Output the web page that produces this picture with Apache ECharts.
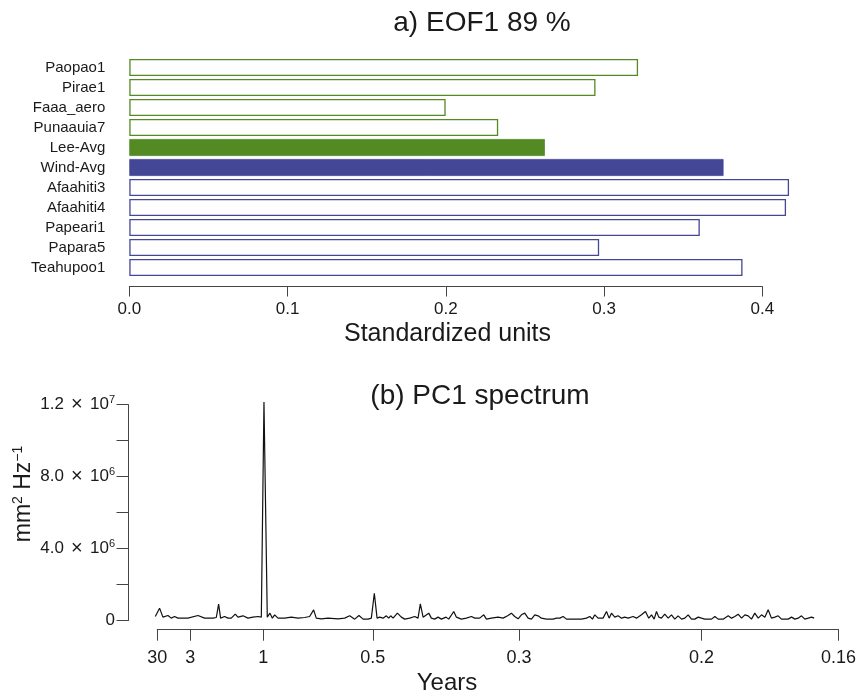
<!DOCTYPE html>
<html>
<head>
<meta charset="utf-8">
<script src="https://cdn.jsdelivr.net/npm/echarts@6/dist/echarts.min.js"></script>
<style>
html,body{margin:0;padding:0;background:#fff;}
#chart{width:859px;height:696px;}
</style>
</head>
<body>
<div id="chart"></div>
<script>
// ---- Data: panel a) EOF1 loadings ----
var stations = ['Paopao1','Pirae1','Faaa_aero','Punaauia7','Lee-Avg','Wind-Avg','Afaahiti3','Afaahiti4','Papeari1','Papara5','Teahupoo1'];
var stationSide = ['lee','lee','lee','lee','lee','wind','wind','wind','wind','wind','wind'];
var eofLoadings = [0.3215, 0.2946, 0.1999, 0.2331, 0.2626, 0.3755, 0.4169, 0.4150, 0.3605, 0.2969, 0.3875];
var eofTicks = [0, 0.1, 0.2, 0.3, 0.4];

// ---- Data: panel (b) PC1 spectrum (frequency in cycles per year, power in mm^2 Hz^-1) ----
var freq = [0.015,0.054,0.084,0.130,0.160,0.190,0.220,0.250,0.311,0.402,0.462,0.538,0.568,0.589,0.607,0.643,0.674,0.704,0.740,0.764,0.810,0.855,0.900,0.946,0.976,1.000,1.030,1.054,1.076,1.097,1.127,1.187,1.248,1.308,1.369,1.414,1.450,1.474,1.520,1.580,1.671,1.731,1.777,1.822,1.861,1.898,1.943,1.973,2.000,2.025,2.049,2.079,2.109,2.130,2.148,2.170,2.209,2.245,2.275,2.321,2.366,2.396,2.417,2.442,2.457,2.493,2.517,2.547,2.578,2.608,2.650,2.674,2.720,2.744,2.789,2.834,2.880,2.910,2.955,2.992,3.016,3.061,3.121,3.167,3.212,3.242,3.272,3.303,3.333,3.363,3.394,3.424,3.454,3.484,3.514,3.560,3.620,3.650,3.681,3.711,3.741,3.817,3.877,3.922,3.953,3.977,3.998,4.028,4.073,4.104,4.128,4.149,4.179,4.209,4.240,4.270,4.300,4.345,4.376,4.421,4.457,4.487,4.512,4.536,4.557,4.578,4.602,4.632,4.663,4.693,4.723,4.753,4.784,4.814,4.844,4.874,4.904,4.935,4.965,4.995,5.056,5.086,5.116,5.161,5.207,5.237,5.267,5.297,5.328,5.358,5.388,5.418,5.448,5.479,5.509,5.539,5.569,5.599,5.630,5.660,5.690,5.750,5.781,5.811,5.841,5.871,5.901,5.932,5.962,5.986];
var power = [224000,686000,187000,279000,131000,224000,131000,131000,131000,279000,131000,131000,168000,908000,131000,224000,131000,131000,353000,187000,261000,131000,187000,224000,187000,12150000,187000,409000,131000,316000,131000,131000,187000,131000,168000,224000,594000,131000,94000,131000,94000,131000,261000,76000,279000,76000,76000,131000,1518000,131000,187000,131000,261000,131000,261000,131000,409000,187000,76000,131000,224000,131000,927000,187000,76000,409000,131000,76000,187000,76000,187000,76000,501000,187000,76000,131000,224000,131000,131000,316000,76000,131000,187000,131000,279000,409000,224000,94000,316000,409000,131000,76000,316000,261000,131000,76000,76000,131000,131000,224000,76000,76000,76000,131000,224000,76000,316000,131000,131000,501000,131000,409000,187000,261000,131000,187000,131000,224000,131000,316000,501000,131000,316000,76000,501000,187000,131000,353000,131000,316000,76000,261000,76000,131000,316000,76000,76000,187000,131000,76000,76000,224000,76000,76000,261000,131000,224000,353000,131000,316000,261000,76000,409000,131000,316000,187000,594000,131000,187000,261000,76000,76000,187000,76000,131000,261000,76000,131000,187000,131000];
var periodTicks = [30, 3, 1, 0.5, 0.3, 0.2, 0.16];
var periodLabels = ['30', '3', '1', '0.5', '0.3', '0.2', '0.16'];
var powerTickValues = [0, 4e6, 8e6, 1.2e7];
var powerTickMantissa = ['0', '4.0', '8.0', '1.2'];
var powerTickExponent = ['', '6', '6', '7'];

// ---- Layout / style ----
var FONT = "'Liberation Sans', Arial, Helvetica, sans-serif";
var TXT = '#1a1a1a';
var AXC = '#444';
var colors = { lee: '#538a24', wind: '#444796' };

// Panel (b) layout: y axis at left edge of data grid, x axis detached (starts at period 30)
var specLeft = 128.5, specRight = 15.7, axStart = 157.3, figW = 859;
var fMin = 1 / periodTicks[0], fMax = 1 / periodTicks[periodTicks.length - 1];
var pxPerUnit = (figW - specRight - axStart) / (fMax - fMin);
var dataMin = fMin - (axStart - specLeft) / pxPerUnit;

var chart = echarts.init(document.getElementById('chart'), null, { renderer: 'canvas' });

var barData = eofLoadings.map(function (v, i) {
  var c = colors[stationSide[i]];
  var filled = stations[i].indexOf('Avg') >= 0;
  return {
    value: v,
    itemStyle: { color: filled ? c : '#ffffff', borderColor: c, borderWidth: filled ? 0.8 : 1.3 }
  };
});

var lineData = freq.map(function (f, i) { return [f, power[i]]; });

var option = {
  animation: false,
  backgroundColor: '#ffffff',
  textStyle: { fontFamily: FONT, color: TXT },
  grid: [
    { left: 129.3, right: 96.7, top: 57.5, height: 220 },
    { left: specLeft, right: specRight, top: 404.7, height: 215.8 },
    { left: axStart, right: specRight, top: 620.5, height: 9.2 }
  ],
  xAxis: [
    {
      gridIndex: 0, type: 'value', min: eofTicks[0], max: eofTicks[eofTicks.length - 1], interval: 0.1,
      position: 'bottom', offset: 9,
      axisLine: { show: true, onZero: false, lineStyle: { color: AXC, width: 1 } },
      axisTick: { show: true, length: 10, lineStyle: { color: AXC, width: 1 } },
      axisLabel: { fontSize: 17, color: TXT, margin: 14, fontFamily: FONT, formatter: function (v) { return v.toFixed(1); } },
      splitLine: { show: false }
    },
    {
      gridIndex: 1, type: 'value', min: dataMin, max: fMax, show: false, splitLine: { show: false },
      axisLine: { onZero: false }
    },
    {
      gridIndex: 2, type: 'value', min: fMin, max: fMax, position: 'bottom',
      axisLine: { show: true, onZero: false, lineStyle: { color: AXC, width: 1 } },
      axisTick: { show: true, length: 11, lineStyle: { color: AXC, width: 1 }, customValues: periodTicks.map(function (p) { return 1 / p; }) },
      axisLabel: {
        fontSize: 18, color: TXT, margin: 19, fontFamily: FONT,
        customValues: periodTicks.map(function (p) { return 1 / p; }),
        formatter: function (v) {
          for (var i = 0; i < periodTicks.length; i++) {
            if (Math.abs(1 / periodTicks[i] - v) < 1e-6) return periodLabels[i];
          }
          return '';
        }
      },
      splitLine: { show: false }
    }
  ],
  yAxis: [
    {
      gridIndex: 0, type: 'category', data: stations, inverse: true,
      axisLine: { show: false, onZero: false }, axisTick: { show: false },
      axisLabel: { fontSize: 15, color: TXT, margin: 24, fontFamily: FONT },
      splitLine: { show: false }
    },
    {
      gridIndex: 1, type: 'value', min: 0, max: 1.2e7, interval: 2e6, position: 'left',
      axisLine: { show: true, onZero: false, lineStyle: { color: AXC, width: 1 } },
      axisTick: { show: true, length: 12, lineStyle: { color: AXC, width: 1 } },
      axisLabel: {
        margin: 13.5, color: TXT,
        customValues: powerTickValues,
        formatter: function (v) {
          for (var i = 0; i < powerTickValues.length; i++) {
            if (Math.abs(powerTickValues[i] - v) < 1) {
              if (!powerTickExponent[i]) return '{m|' + powerTickMantissa[i] + '}';
              return '{m|' + powerTickMantissa[i] + ' }{x|\u00d7}{m| 10}{s|' + powerTickExponent[i] + '}';
            }
          }
          return '';
        },
        rich: {
          m: { fontSize: 17, color: TXT, fontFamily: FONT, lineHeight: 20 },
          x: { fontSize: 20, color: TXT, fontFamily: FONT, lineHeight: 20, padding: [0, 2.5, 0, 2.5] },
          s: { fontSize: 11, color: TXT, fontFamily: FONT, verticalAlign: 'top', lineHeight: 12 }
        }
      },
      splitLine: { show: false }
    },
    { gridIndex: 2, type: 'value', show: false, min: 0, max: 1, splitLine: { show: false }, axisLine: { onZero: false } }
  ],
  series: [
    {
      type: 'bar', xAxisIndex: 0, yAxisIndex: 0, data: barData, barWidth: 17, clip: false,
      silent: true
    },
    {
      type: 'line', xAxisIndex: 1, yAxisIndex: 1, data: lineData, symbol: 'none', showSymbol: false,
      clip: false, silent: true,
      lineStyle: { color: '#111', width: 1.2 }
    }
  ],
  graphic: [
    { type: 'text', x: 482, y: 23.5, style: { text: 'a) EOF1 89 %', font: '28px ' + FONT, fill: TXT, align: 'center', verticalAlign: 'middle', textAlign: 'center', textVerticalAlign: 'middle' } },
    { type: 'text', x: 447.5, y: 334, style: { text: 'Standardized units', font: '25px ' + FONT, fill: TXT, align: 'center', verticalAlign: 'middle', textAlign: 'center', textVerticalAlign: 'middle' } },
    { type: 'text', x: 480, y: 396, style: { text: '(b) PC1 spectrum', font: '28px ' + FONT, fill: TXT, align: 'center', verticalAlign: 'middle', textAlign: 'center', textVerticalAlign: 'middle' } },
    { type: 'text', x: 447, y: 683, style: { text: 'Years', font: '24px ' + FONT, fill: TXT, align: 'center', verticalAlign: 'middle', textAlign: 'center', textVerticalAlign: 'middle' } },
    {
      type: 'text', x: 24, y: 494, rotation: Math.PI / 2,
      style: {
        text: '{a|mm}{s|2}{a| Hz}{s|\u22121}',
        align: 'center', verticalAlign: 'middle', textAlign: 'center', textVerticalAlign: 'middle',
        rich: {
          a: { fontSize: 23, fontFamily: FONT, fill: TXT, color: TXT, lineHeight: 26 },
          s: { fontSize: 14, fontFamily: FONT, fill: TXT, color: TXT, verticalAlign: 'top', lineHeight: 15 }
        }
      }
    }
  ]
};
chart.setOption(option);
</script>
</body>
</html>
